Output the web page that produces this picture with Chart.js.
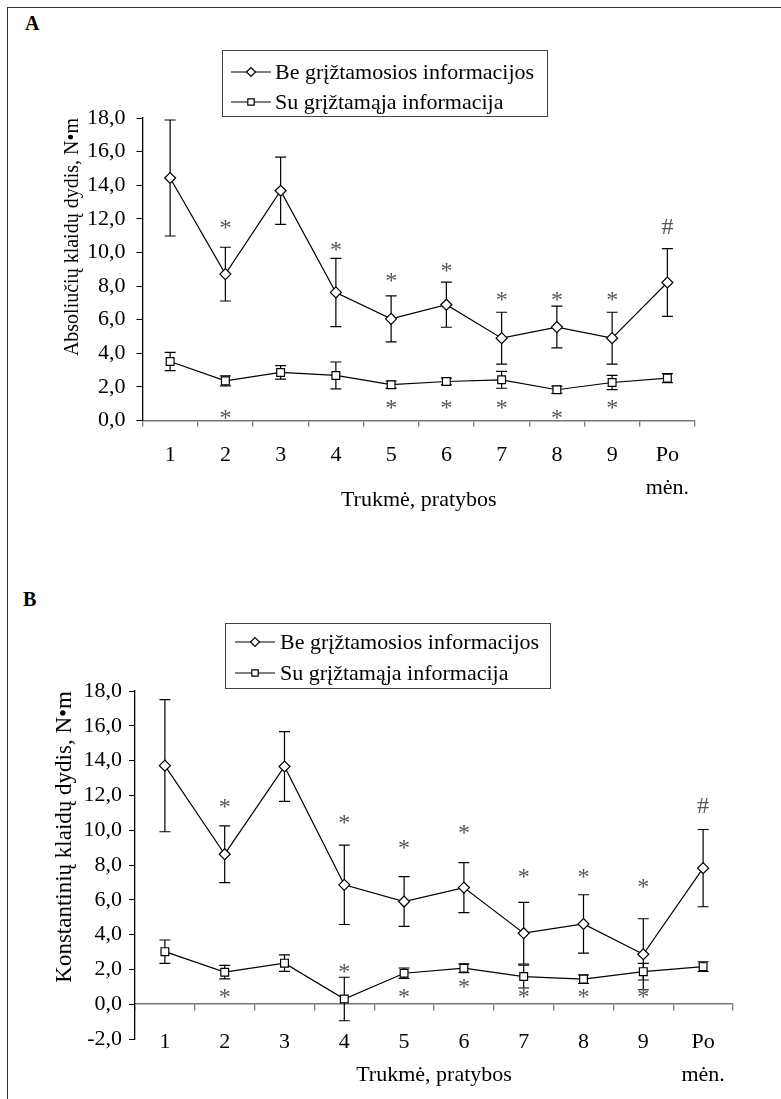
<!DOCTYPE html>
<html>
<head>
<meta charset="utf-8">
<script src="https://cdn.jsdelivr.net/npm/chart.js@4.4.1/dist/chart.umd.min.js"></script>
<style>
  html, body { margin: 0; padding: 0; background: #fff; }
  body { width: 781px; height: 1099px; position: relative; overflow: hidden; font-family: "Liberation Serif", serif; }
  .frame { position: absolute; left: 7px; top: 7px; width: 790px; height: 1110px; border-top: 1.5px solid #333; border-left: 1.5px solid #333; }
  .panel-label { position: absolute; font-weight: bold; font-size: 20px; line-height: 20px; }
  canvas { position: absolute; left: 0; }
</style>
</head>
<body>
<div class="frame"></div>
<div class="panel-label" style="left:25px; top:13px;">A</div>
<div class="panel-label" style="left:23px; top:589px;">B</div>
<canvas id="chartA" width="781" height="555" style="top:0"></canvas>
<canvas id="chartB" width="781" height="544" style="top:555px"></canvas>

<script>
// Data
const labels = ['1', '2', '3', '4', '5', '6', '7', '8', '9', ['Po', 'mėn.']];
const seriesNames = ['Be grįžtamosios informacijos', 'Su grįžtamąja informacija'];

// A - absolute error
const absBe = [14.43, 8.71, 13.67, 7.62, 6.05, 6.89, 4.90, 5.56, 4.90, 8.21];
const absBeErr = [3.45, 1.60, 2.00, 2.03, 1.37, 1.34, 1.54, 1.24, 1.54, 2.02];
const absSu = [3.51, 2.36, 2.86, 2.68, 2.13, 2.32, 2.42, 1.83, 2.26, 2.52];
const absSuErr = [0.54, 0.30, 0.40, 0.80, 0.22, 0.20, 0.50, 0.22, 0.42, 0.27];
const absStarsUp = [null, 11.75, null, 10.45, 8.57, 9.17, 7.48, 7.48, 7.48, null];
const absStarsDown = [null, 0.44, null, null, 1.03, 1.03, 1.03, 0.44, 1.03, null];
const absHash = [null, null, null, null, null, null, null, null, null, 11.55];

// B - constant error
const konBe = [13.71, 8.62, 13.66, 6.86, 5.90, 6.70, 4.08, 4.61, 2.87, 7.82];
const konBeErr = [3.80, 1.63, 2.00, 2.28, 1.43, 1.44, 1.77, 1.68, 2.04, 2.22];
const konSu = [3.02, 1.84, 2.36, 0.30, 1.78, 2.07, 1.59, 1.44, 1.87, 2.16];
const konSuErr = [0.67, 0.39, 0.47, 1.25, 0.30, 0.25, 0.66, 0.25, 0.48, 0.28];
const konStarsUp = [null, 11.64, null, 10.72, 9.25, 10.11, 7.62, 7.62, 7.01, null];
const konStarsDown = [null, 0.72, null, 2.16, 0.72, 1.26, 0.72, 0.72, 0.72, null];
const konHash = [null, null, null, null, null, null, null, null, null, 11.45];

const FONT = 'Liberation Serif';
const tickFont = { family: FONT, size: 22, lineHeight: 1.5 };
const titleFont = { family: FONT, size: 22, lineHeight: 1.2 };

const fmt = v => v.toFixed(1).replace('.', ',');

// error bars behind the points
const errorBars = {
  id: 'errorBars',
  beforeDatasetsDraw(chart, args, opts) {
    const ctx = chart.ctx;
    const xs = chart.scales.x, ys = chart.scales.y;
    ctx.save();
    ctx.strokeStyle = '#000';
    ctx.lineWidth = 1.2;
    opts.errors.forEach((errs, i) => {
      const vals = chart.data.datasets[i].data;
      errs.forEach((e, j) => {
        const x = xs.getPixelForValue(j);
        const top = ys.getPixelForValue(vals[j] + e);
        const bot = ys.getPixelForValue(vals[j] - e);
        ctx.beginPath();
        ctx.moveTo(x, top); ctx.lineTo(x, bot);
        ctx.moveTo(x - 5.5, top); ctx.lineTo(x + 5.5, top);
        ctx.moveTo(x - 5.5, bot); ctx.lineTo(x + 5.5, bot);
        ctx.stroke();
      });
    });
    ctx.restore();
  }
};

// significance marks (* and #)
const marks = {
  id: 'marks',
  afterDatasetsDraw(chart, args, opts) {
    const ctx = chart.ctx;
    const xs = chart.scales.x, ys = chart.scales.y;
    ctx.save();
    ctx.font = '24px "' + FONT + '"';
    ctx.fillStyle = '#555';
    ctx.textAlign = 'center';
    ctx.textBaseline = 'alphabetic';
    opts.rows.forEach(row => {
      row.values.forEach((v, j) => {
        if (v == null) return;
        const x = xs.getPixelForValue(j);
        const y = ys.getPixelForValue(v);
        ctx.fillText(row.symbol, x, y + (row.symbol === '#' ? 8 : 12));
      });
    });
    ctx.restore();
  }
};

// boxed legend like the original
const boxLegend = {
  id: 'boxLegend',
  afterDraw(chart, args, opts) {
    const ctx = chart.ctx;
    const b = opts.box;
    ctx.save();
    ctx.fillStyle = '#fff';
    ctx.fillRect(b.x, b.y, b.w, b.h);
    ctx.strokeStyle = '#444';
    ctx.lineWidth = 1;
    ctx.strokeRect(b.x + 0.5, b.y + 0.5, b.w, b.h);
    chart.data.datasets.forEach((ds, i) => {
      const y = opts.rows[i];
      ctx.strokeStyle = '#000';
      ctx.lineWidth = 1.2;
      ctx.beginPath();
      ctx.moveTo(opts.lineX, y);
      ctx.lineTo(opts.lineX + 40, y);
      ctx.stroke();
      ctx.fillStyle = '#fff';
      Chart.helpers.drawPoint(ctx, {
        pointStyle: ds.pointStyle, radius: ds.pointRadius - 1, rotation: 0, borderWidth: 1.2
      }, opts.lineX + 20, y);
      ctx.fillStyle = '#000';
      ctx.font = '22px "' + FONT + '"';
      ctx.textAlign = 'left';
      ctx.textBaseline = 'middle';
      ctx.fillText(ds.label, opts.textX, y + 1);
    });
    ctx.restore();
  }
};

function makeDatasets(be, su) {
  return [
    {
      label: seriesNames[0], data: be,
      borderColor: '#000', borderWidth: 1.2,
      pointStyle: 'rectRot', pointRadius: 5.5,
      pointBackgroundColor: '#fff', pointBorderColor: '#000', pointBorderWidth: 1.2
    },
    {
      label: seriesNames[1], data: su,
      borderColor: '#000', borderWidth: 1.2,
      pointStyle: 'rect', pointRadius: 5.5,
      pointBackgroundColor: '#fff', pointBorderColor: '#000', pointBorderWidth: 1.2
    }
  ];
}

// Chart A
new Chart(document.getElementById('chartA'), {
  type: 'line',
  data: { labels: labels, datasets: makeDatasets(absBe, absSu) },
  options: {
    responsive: false,
    animation: false,
    layout: { padding: { top: 118, right: 86, left: 0, bottom: 42 } },
    plugins: {
      legend: { display: false },
      tooltip: { enabled: false },
      errorBars: { errors: [absBeErr, absSuErr] },
      marks: { rows: [
        { symbol: '*', values: absStarsUp },
        { symbol: '*', values: absStarsDown },
        { symbol: '#', values: absHash }
      ] },
      boxLegend: { box: { x: 222, y: 50, w: 325, h: 66 }, rows: [72, 102], lineX: 231, textX: 275 }
    },
    scales: {
      x: {
        offset: true,
        grid: { offset: true, drawOnChartArea: false, tickLength: 6, color: '#777', lineWidth: 1.3 },
        border: { color: '#777', width: 1.5 },
        ticks: { font: tickFont, color: '#000', padding: 12, maxRotation: 0, autoSkip: false },
        title: { display: true, text: 'Trukmė, pratybos', font: titleFont, color: '#000', padding: 0 },
        afterFit: s => { s.height = 92.5; }
      },
      y: {
        min: 0, max: 18,
        grid: { drawOnChartArea: false, tickLength: 6, color: '#000' },
        border: { color: '#000', width: 1.3 },
        ticks: { stepSize: 2, autoSkip: false, font: tickFont, color: '#000', padding: 11, callback: fmt },
        title: { display: true, text: 'Absoliučių klaidų dydis, N•m', font: { family: FONT, size: 20, lineHeight: 1.2 },
                 color: '#000', align: 'end', padding: { top: 61, bottom: 0 } },
        afterFit: s => { s.width = 142.5; }
      }
    }
  },
  plugins: [errorBars, marks, boxLegend]
});

// Chart B
new Chart(document.getElementById('chartB'), {
  type: 'line',
  data: { labels: labels, datasets: makeDatasets(konBe, konSu) },
  options: {
    responsive: false,
    animation: false,
    layout: { padding: { top: 136, right: 48, left: 0, bottom: 60 } },
    plugins: {
      legend: { display: false },
      tooltip: { enabled: false },
      errorBars: { errors: [konBeErr, konSuErr] },
      marks: { rows: [
        { symbol: '*', values: konStarsUp },
        { symbol: '*', values: konStarsDown },
        { symbol: '#', values: konHash }
      ] },
      boxLegend: { box: { x: 225, y: 68, w: 325, h: 65 }, rows: [87, 118], lineX: 235, textX: 280 }
    },
    scales: {
      x: {
        position: { y: 0 },
        offset: true,
        grid: { offset: true, drawOnChartArea: false, tickLength: 6, color: '#777', lineWidth: 1.3 },
        border: { color: '#777', width: 1.5 },
        ticks: { display: false }
      },
      // labels sit at the bottom of the plot, level with -2,0
      x2: {
        type: 'category',
        axis: 'x',
        position: { y: -2 },
        offset: true,
        grid: { display: false },
        border: { display: false },
        ticks: { font: tickFont, color: '#000', padding: -21.5, maxRotation: 0, autoSkip: false },
        title: { display: true, text: 'Trukmė, pratybos', font: titleFont, color: '#000', padding: 0 },
        afterFit: s => { s.height = 49.2; }
      },
      y: {
        min: -2, max: 18,
        grid: { drawOnChartArea: false, tickLength: 6, color: '#000' },
        border: { color: '#000', width: 1.3 },
        ticks: { stepSize: 2, autoSkip: false, font: tickFont, color: '#000', padding: 7, callback: fmt },
        title: { display: true, text: 'Konstantinių klaidų dydis, N•m', font: { family: FONT, size: 23, lineHeight: 1.2 },
                 color: '#000', align: 'end', padding: { top: 51, bottom: 0 } },
        afterFit: s => { s.width = 135; }
      }
    }
  },
  plugins: [errorBars, marks, boxLegend]
});
</script>
</body>
</html>
